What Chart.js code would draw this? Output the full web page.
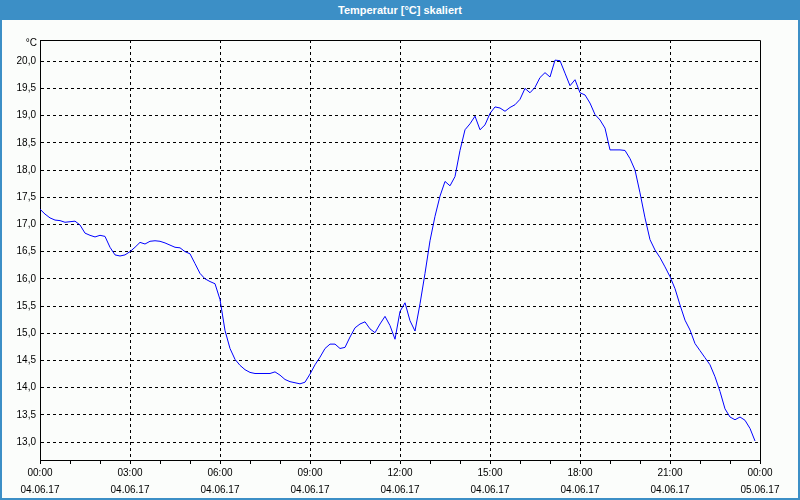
<!DOCTYPE html>
<html>
<head>
<meta charset="utf-8">
<script src="https://cdn.jsdelivr.net/npm/chart.js@4"></script>
<style>
  body { margin: 0; background: #ffffff; }
  #frame { position: relative; width: 800px; height: 500px; background: #fbfdfb; }
  #title {
    position: absolute; left: 0; top: 0; width: 800px; height: 20px;
    background: #3c8fc6; color: #ffffff; text-align: center;
    font: bold 11px "Liberation Sans", sans-serif; line-height: 20px;
  }
  #unit {
    position: absolute; left: 0; top: 37px; width: 37px; text-align: right;
    font: 10px "Liberation Sans", sans-serif; color: #000;
  }
  #edge {
    position: absolute; left: 0; top: 0; width: 800px; height: 500px;
    box-sizing: border-box; border: 2px solid #3c8fc6; border-top: none;
    pointer-events: none;
  }
  canvas { position: absolute; left: 0; top: 0; }
</style>
</head>
<body>
<div id="frame">
  <canvas id="chart" width="800" height="500"></canvas>
  <div id="title">Temperatur [°C] skaliert</div>
  <div id="unit">°C</div>
  <div id="edge"></div>
</div>
<script>
// one sample every 10 minutes, 04.06.17 00:00 .. 23:50
const sampleHours = 10 / 60;
const temps = [
  17.28, 17.19, 17.12, 17.08, 17.07, 17.04, 17.05, 17.06, 16.99, 16.84,
  16.80, 16.77, 16.80, 16.78, 16.58, 16.44, 16.42, 16.44, 16.50, 16.58,
  16.67, 16.64, 16.69, 16.70, 16.69, 16.66, 16.62, 16.58, 16.57, 16.50,
  16.46, 16.28, 16.10, 16.00, 15.95, 15.91, 15.62, 15.05, 14.72, 14.52,
  14.41, 14.33, 14.28, 14.26, 14.26, 14.26, 14.26, 14.29, 14.23, 14.15,
  14.11, 14.09, 14.07, 14.10, 14.25, 14.42, 14.56, 14.72, 14.80, 14.80,
  14.72, 14.74, 14.93, 15.10, 15.17, 15.21, 15.08, 15.01, 15.17, 15.31,
  15.14, 14.89, 15.40, 15.56, 15.23, 15.04, 15.54, 16.10, 16.70, 17.15,
  17.52, 17.79, 17.71, 17.88, 18.36, 18.74, 18.85, 18.99, 18.74, 18.83,
  19.04, 19.16, 19.14, 19.08, 19.15, 19.20, 19.30, 19.50, 19.42, 19.52,
  19.70, 19.79, 19.71, 20.02, 20.01, 19.78, 19.55, 19.66, 19.42, 19.38,
  19.23, 19.02, 18.92, 18.77, 18.37, 18.37, 18.37, 18.36, 18.21, 18.00,
  17.58, 17.12, 16.72, 16.53, 16.39, 16.22, 16.04, 15.82, 15.52, 15.24,
  15.06, 14.81, 14.68, 14.55, 14.42, 14.20, 13.93, 13.61, 13.46, 13.41,
  13.46, 13.40, 13.25, 13.02,
];

const hourTicks = [0,1,2,3,4,5,6,7,8,9,10,11,12,13,14,15,16,17,18,19,20,21,22,23,24];
const xTickTimes = ["00:00", "03:00", "06:00", "09:00", "12:00", "15:00", "18:00", "21:00", "00:00"];
const xTickDates = ["04.06.17", "04.06.17", "04.06.17", "04.06.17", "04.06.17", "04.06.17", "04.06.17", "04.06.17", "05.06.17"];
const yTicks = [13.0, 13.5, 14.0, 14.5, 15.0, 15.5, 16.0, 16.5, 17.0, 17.5, 18.0, 18.5, 19.0, 19.5, 20.0];

Chart.defaults.font.family = "'Liberation Sans', sans-serif";
Chart.defaults.font.size = 10;
Chart.defaults.color = "#000000";

// solid frame on top and right of the plot
const plotFrame = {
  id: "plotFrame",
  afterDraw(chart) {
    const { ctx, chartArea: a } = chart;
    ctx.save();
    ctx.strokeStyle = "#000000";
    ctx.lineWidth = 1;
    ctx.beginPath();
    ctx.moveTo(Math.round(a.left) + 0.5, Math.round(a.top) + 0.5);
    ctx.lineTo(Math.round(a.right) + 0.5, Math.round(a.top) + 0.5);
    ctx.lineTo(Math.round(a.right) + 0.5, Math.round(a.bottom) + 0.5);
    ctx.stroke();
    ctx.restore();
  },
};

new Chart(document.getElementById("chart").getContext("2d"), {
  type: "line",
  data: {
    datasets: [
      {
        data: temps.map((v, i) => ({ x: i * sampleHours, y: v })),
        borderColor: "#0000ff",
        borderWidth: 1,
        pointRadius: 0,
        tension: 0,
        fill: false,
      },
    ],
  },
  options: {
    responsive: false,
    animation: false,
    layout: { padding: { top: 40, right: 40, left: 0, bottom: 0 } },
    plugins: { legend: { display: false }, tooltip: { enabled: false } },
    scales: {
      x: {
        type: "linear",
        min: 0,
        max: 24,
        afterBuildTicks: (s) => { s.ticks = hourTicks.map((v) => ({ value: v })); },
        afterFit: (s) => { s.height = 40; },
        border: { color: "#000000", width: 1, dash: [3, 3] },
        grid: {
          color: (c) =>
            c.tick && c.tick.value % 3 === 0 && c.tick.value > 0 && c.tick.value < 24
              ? "#000000"
              : "rgba(0,0,0,0)",
          tickColor: "#000000",
          tickLength: 4,
        },
        ticks: {
          autoSkip: false,
          maxRotation: 0,
          padding: 1,
          font: { size: 10, lineHeight: 1.7 },
          callback: (v) => (v % 3 === 0 ? [xTickTimes[v / 3], xTickDates[v / 3]] : ""),
        },
      },
      y: {
        min: 12.67,
        max: 20.39,
        afterBuildTicks: (s) => { s.ticks = yTicks.map((v) => ({ value: v })); },
        afterFit: (s) => { s.width = 40; },
        border: { color: "#000000", width: 1, dash: [3, 3] },
        grid: { color: "#000000", drawTicks: false },
        ticks: {
          padding: 4,
          callback: (v) => v.toFixed(1).replace(".", ","),
        },
      },
    },
  },
  plugins: [plotFrame],
});
</script>
</body>
</html>
